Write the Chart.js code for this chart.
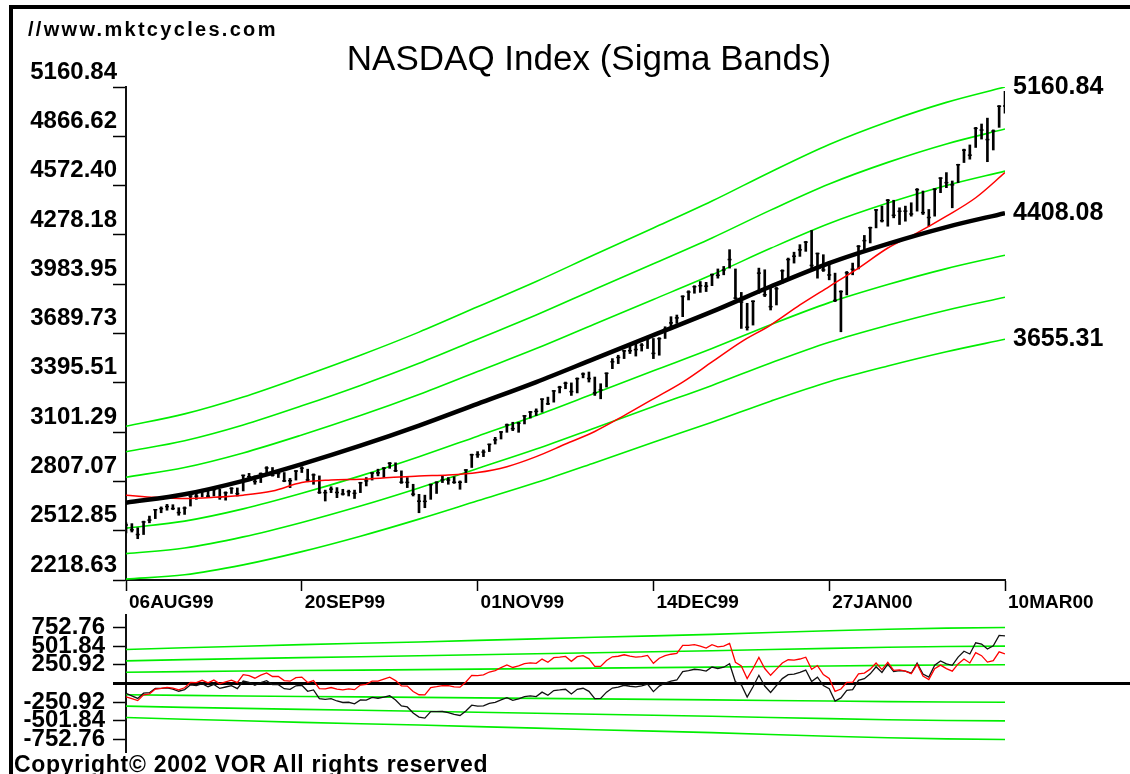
<!DOCTYPE html>
<html>
<head>
<meta charset="utf-8">
<title>NASDAQ Index (Sigma Bands)</title>
<script src="https://cdn.jsdelivr.net/npm/chart.js@4.4.0/dist/chart.umd.min.js"></script>
<style>
  html, body { margin: 0; padding: 0; background: #fff; }
  body { width: 1130px; height: 774px; position: relative; overflow: hidden; font-family: "Liberation Sans", Arial, sans-serif; }
  #frame { position: absolute; left: 9px; top: 5px; width: 1130px; height: 780px; border-top: 4px solid #000; border-left: 4px solid #000; }
  #site { position: absolute; left: 28px; top: 19px; font: bold 20px/20px "Liberation Sans", Arial, sans-serif; letter-spacing: 2.3px; }
  #title { position: absolute; left: 0; width: 1178px; top: 40px; text-align: center; font: 35px/35px "Liberation Sans", Arial, sans-serif; }
  #copy { position: absolute; left: 14px; top: 753px; font: bold 23px/23px "Liberation Sans", Arial, sans-serif; letter-spacing: 0.7px; }
  canvas { position: absolute; left: 0; }
  #main { top: 0; }
  #osc { top: 610px; }
</style>
</head>
<body>
<div id="frame"></div>
<canvas id="main" width="1130" height="610"></canvas>
<canvas id="osc" width="1130" height="164"></canvas>
<div id="site">//www.mktcycles.com</div>
<div id="title">NASDAQ Index (Sigma Bands)</div>
<div id="copy">Copyright© 2002 VOR All rights reserved</div>
<script>
// x axis: trading day index, one label every 30 sessions
const xTickIdx = [0, 30, 60, 90, 120, 150];
const xTickLabels = ['06AUG99', '20SEP99', '01NOV99', '14DEC99', '27JAN00', '10MAR00'];
const priceTicks = [2218.63, 2512.85, 2807.07, 3101.29, 3395.51, 3689.73, 3983.95, 4278.18, 4572.40, 4866.62, 5160.84];
const oscTicks = [-752.76, -501.84, -250.92, 250.92, 501.84, 752.76];
const endLabels = [5160.84, 4408.08, 3655.31];

// daily bars
const closes = [2547,2518,2490,2565,2576,2638,2645,2657,2645,2621, 2648,2720,2719,2752,2719,2758,2712,2739,2765,2734,
  2843,2835,2806,2853,2887,2844,2854,2810,2811,2869, 2886,2816,2846,2741,2740,2761,2741,2732,2746,2736,
  2799,2810,2857,2858,2886,2915,2871,2802,2801,2731, 2689,2688,2788,2801,2816,2815,2802,2802,2875,2966,
  2967,2982,3028,3055,3102,3144,3122,3155,3198,3221, 3225,3298,3270,3347,3369,3393,3343,3420,3448,3421,
  3336,3353,3452,3521,3547,3586,3587,3594,3620,3658, 3571,3659,3715,3753,3783,3911,3937,3969,3975,3972,
  4041,4037,4069,4131,3901,3877,3727,3882,4050,3921, 3850,3957,4064,4131,4151,4189,4235,4096,4167,4069,
  4039,3887,3940,4052,4073,4210,4244,4321,4427,4363, 4485,4395,4419,4420,4403,4548,4411,4382,4550,4617,
  4590,4577,4697,4784,4754,4914,4904,4847,4898,5046, 5048];
const highs = [2560,2555,2530,2570,2600,2640,2655,2670,2668,2650, 2655,2722,2735,2760,2758,2765,2760,2745,2770,2768,
  2845,2855,2840,2858,2895,2890,2865,2860,2825,2872, 2895,2880,2852,2840,2755,2775,2770,2760,2755,2755,
  2802,2830,2860,2880,2890,2920,2918,2870,2830,2790, 2730,2725,2790,2805,2840,2830,2835,2810,2878,2970,
  2985,2995,3030,3070,3105,3150,3160,3160,3200,3225, 3240,3300,3310,3350,3375,3400,3395,3425,3455,3460,
  3430,3390,3455,3540,3560,3590,3620,3640,3630,3670, 3660,3665,3730,3790,3800,3915,3945,3975,4000,3995,
  4045,4075,4090,4190,4075,3935,3870,3885,4080,4070, 3960,3965,4070,4140,4175,4220,4240,4305,4170,4160,
  4120,4050,3945,4060,4110,4215,4275,4325,4430,4450, 4490,4485,4440,4450,4470,4555,4540,4430,4555,4620,
  4650,4600,4700,4790,4815,4920,4940,4975,4905,5050, 5135];
const lows = [2500,2505,2465,2490,2560,2585,2620,2635,2638,2605, 2610,2660,2700,2715,2710,2720,2700,2695,2735,2720,
  2750,2815,2790,2800,2855,2838,2830,2805,2770,2815, 2860,2805,2790,2735,2690,2740,2710,2725,2720,2705,
  2740,2780,2815,2840,2830,2885,2865,2795,2770,2720, 2620,2650,2700,2735,2800,2790,2795,2760,2800,2890,
  2950,2955,2985,3030,3060,3100,3110,3100,3150,3185, 3200,3220,3265,3280,3335,3360,3320,3335,3425,3400,
  3320,3300,3370,3480,3510,3540,3570,3555,3585,3600, 3540,3560,3660,3720,3750,3790,3890,3930,3935,3940,
  3975,4020,4040,4080,3895,3720,3710,3740,3930,3910, 3830,3860,3990,4020,4110,4150,4180,4080,4020,4060,
  4010,3880,3700,3920,4040,4075,4190,4230,4320,4355, 4330,4380,4340,4360,4390,4420,4400,4330,4390,4530,
  4560,4440,4590,4710,4730,4800,4850,4715,4785,4920, 5005];

// regression line and sigma, read every 10 sessions
const regLine = [2680, 2730, 2810, 2910, 3020, 3140, 3270, 3400, 3540, 3680, 3820, 3970, 4110, 4225, 4325, 4408.08];
const sigma = [152, 160, 167, 174, 180, 186, 193, 200, 207, 213, 220, 228, 236, 243, 248, 250.92];
// moving average (red), read every 5 sessions
const maLine = [2725, 2712, 2705, 2712, 2725, 2750, 2800, 2815, 2820, 2830, 2840, 2845, 2860, 2895, 2955, 3030,
  3105, 3200, 3300, 3400, 3520, 3640, 3740, 3860, 3970, 4080, 4200, 4290, 4390, 4500, 4650];
const bandMult = [3, 2, 1, -1, -2, -3];

// lower panel: distance from regression (black) and from moving average (red)
const devReg = [-133,-167,-200,-130,-124,-67,-65,-58,-75,-104, -82,-18,-27,-2,-43,-12,-66,-47,-29,-68,
  33,15,-24,13,37,-16,-16,-70,-79,-31, -24,-105,-86,-202,-214,-204,-235,-255,-252,-273,
  -221,-222,-187,-198,-182,-165,-221,-302,-315,-397, -451,-465,-378,-378,-376,-390,-416,-429,-369,-291,
  -303,-301,-268,-254,-220,-191,-226,-206,-176,-166, -175,-116,-158,-95,-87,-77,-141,-78,-64,-105,
  -204,-201,-116,-61,-49,-24,-37,-44,-32,-8, -109,-35,7,31,47,161,173,191,183,166,
  221,202,219,266,21,-18,-183,-43,110,-34, -120,-27,66,119,125,149,181,28,85,-27,
  -71,-235,-193,-93,-83,42,65,130,225,149, 260,160,174,165,138,273,126,87,245,302,
  265,244,355,434,396,547,529,464,506,646, 640];
const devMa = [-178,-204,-230,-152,-139,-74,-66,-52,-63,-85, -57,14,11,43,8,46,-3,22,45,12,
  118,105,71,113,142,94,94,40,31,79, 86,13,40,-68,-72,-54,-75,-85,-72,-83,
  -21,-12,33,32,58,85,39,-32,-35,-107, -151,-153,-54,-42,-28,-30,-46,-49,21,109,
  107,115,154,174,214,249,215,236,267,278, 270,328,285,347,354,363,298,360,373,331,
  231,229,309,359,366,386,367,354,360,378, 271,339,375,393,403,511,513,521,503,476,
  521,493,501,539,285,237,67,202,350,201, 110,193,276,319,315,329,353,192,241,121,
  69,-105,-74,16,15,130,140,193,275,187, 285,177,183,166,131,258,101,52,200,247,
  200,165,263,328,276,414,374,287,308,426, 398];

Chart.defaults.font.family = '"Liberation Sans", Arial, sans-serif';
Chart.defaults.color = '#000';

const GREEN = '#00ee00';
const labelFont = { family: '"Liberation Sans", Arial, sans-serif', weight: 'bold', size: 24 };

const endLabelPlugin = {
  id: 'endLabels',
  afterDraw(chart) {
    const { ctx, chartArea, scales } = chart;
    ctx.save();
    ctx.font = 'bold 25px "Liberation Sans", Arial, sans-serif';
    ctx.fillStyle = '#000';
    ctx.textAlign = 'left';
    ctx.textBaseline = 'middle';
    endLabels.forEach(v => ctx.fillText(v.toFixed(2), chartArea.right + 8, scales.y.getPixelForValue(v)));
    ctx.restore();
  }
};

const zeroLinePlugin = {
  id: 'zeroLine',
  beforeDatasetsDraw(chart) {
    const { ctx, chartArea, scales } = chart;
    const y = scales.y.getPixelForValue(0);
    ctx.save();
    ctx.strokeStyle = '#000';
    ctx.lineWidth = 3;
    ctx.beginPath();
    ctx.moveTo(chartArea.left - 13, y);
    ctx.lineTo(chart.width, y);
    ctx.stroke();
    ctx.restore();
  }
};

function yAxis(min, max, tickValues, labelOffset, pad) {
  return {
    min: min,
    max: max,
    afterBuildTicks: s => { s.ticks = tickValues.map(v => ({ value: v })); },
    afterFit: s => { s.width = 126; s.paddingTop = 0; s.paddingBottom = 0; },
    grid: { drawOnChartArea: false, drawTicks: true, tickLength: 13, tickWidth: 1.5, tickColor: '#000' },
    border: { display: true, color: '#111', width: 2 },
    ticks: { autoSkip: false, labelOffset: labelOffset, padding: pad, color: '#000', font: labelFont,
      callback: v => v.toFixed(2) }
  };
}

const bandSets = bandMult.map(k => ({
  type: 'line',
  data: regLine.map((v, j) => ({ x: j * 10, y: v + k * sigma[j] })),
  borderColor: GREEN,
  borderWidth: 1.6,
  pointRadius: 0,
  cubicInterpolationMode: 'monotone',
  order: 6
}));

new Chart(document.getElementById('main'), {
  type: 'line',
  data: {
    datasets: [
      ...bandSets,
      {
        type: 'bar',
        data: closes.map((c, i) => ({ x: i, y: [lows[i], highs[i]] })),
        backgroundColor: '#000',
        barThickness: 2,
        grouped: false,
        order: 4
      },
      {
        type: 'line',
        data: closes.map((c, i) => ({ x: i, y: c })),
        showLine: false,
        pointStyle: 'line',
        pointRadius: 2,
        pointBorderWidth: 1.5,
        pointBorderColor: '#000',
        order: 3
      },
      {
        type: 'line',
        data: maLine.map((v, j) => ({ x: j * 5, y: v })),
        borderColor: '#ff0000',
        borderWidth: 1.5,
        pointRadius: 0,
        cubicInterpolationMode: 'monotone',
        order: 2
      },
      {
        type: 'line',
        data: regLine.map((v, j) => ({ x: j * 10, y: v })),
        borderColor: '#000',
        borderWidth: 4.5,
        pointRadius: 0,
        cubicInterpolationMode: 'monotone',
        order: 1
      }
    ]
  },
  options: {
    responsive: false,
    animation: false,
    events: [],
    layout: { padding: { left: 0, top: 87, right: 125, bottom: 0 } },
    plugins: { legend: { display: false }, tooltip: { enabled: false } },
    scales: {
      x: {
        type: 'linear',
        min: 0,
        max: 150,
        offset: false,
        afterBuildTicks: s => { s.ticks = xTickIdx.map(v => ({ value: v })); },
        afterFit: s => { s.height = 30; s.paddingLeft = 0; s.paddingRight = 0; },
        grid: { offset: false, drawOnChartArea: false, drawTicks: true, tickLength: 11, tickWidth: 1.5, tickColor: '#000' },
        border: { display: true, color: '#111', width: 2 },
        ticks: {
          autoSkip: false, maxRotation: 0, align: 'start', labelOffset: 3, padding: 0, color: '#000',
          font: { family: '"Liberation Sans", Arial, sans-serif', weight: 'bold', size: 19 },
          callback: (v, i) => xTickLabels[i]
        }
      },
      y: yAxis(2218.63, 5160.84, priceTicks, -15, -4)
    }
  },
  plugins: [endLabelPlugin]
});

new Chart(document.getElementById('osc'), {
  type: 'line',
  data: {
    datasets: [
      ...bandMult.map(k => ({
        data: sigma.map((s, j) => ({ x: j * 10, y: k * s })),
        borderColor: GREEN,
        borderWidth: 1.6,
        pointRadius: 0,
        order: 3
      })),
      {
        data: devReg.map((v, i) => ({ x: i, y: v })),
        borderColor: '#111',
        borderWidth: 1.3,
        pointRadius: 0,
        order: 2
      },
      {
        data: devMa.map((v, i) => ({ x: i, y: v })),
        borderColor: '#ff0000',
        borderWidth: 1.3,
        pointRadius: 0,
        order: 1
      }
    ]
  },
  options: {
    responsive: false,
    animation: false,
    events: [],
    layout: { padding: { left: 0, top: 5, right: 125, bottom: 22 } },
    plugins: { legend: { display: false }, tooltip: { enabled: false } },
    scales: {
      x: { type: 'linear', min: 0, max: 150, display: false },
      y: yAxis(-920, 920, oscTicks, 0, 8)
    }
  },
  plugins: [zeroLinePlugin]
});
</script>
</body>
</html>
